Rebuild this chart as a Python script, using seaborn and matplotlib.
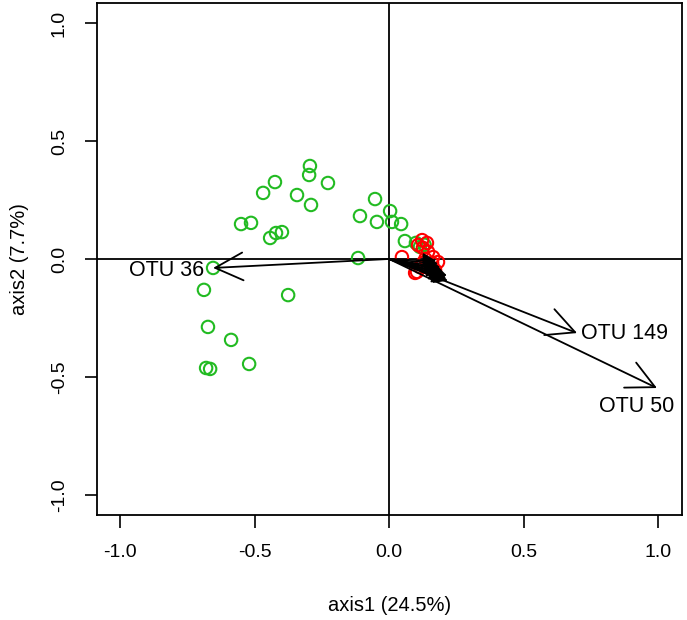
import numpy as np
import pandas as pd
import seaborn as sns
import matplotlib.pyplot as plt

# sample scores, green group
green_x = [-0.654, -0.688, -0.673, -0.587, -0.680, -0.665, -0.520, -0.550, -0.513, -0.468,
           -0.424, -0.442, -0.420, -0.398, -0.342, -0.294, -0.297, -0.290, -0.227, -0.375,
           -0.115, -0.108, -0.052, -0.045, 0.004, 0.011, 0.045, 0.059, 0.100, 0.115, 0.132]
green_y = [-0.038, -0.131, -0.288, -0.343, -0.462, -0.466, -0.445, 0.148, 0.153, 0.280,
           0.326, 0.089, 0.110, 0.114, 0.271, 0.394, 0.356, 0.229, 0.322, -0.153,
           0.004, 0.182, 0.254, 0.157, 0.203, 0.157, 0.148, 0.076, 0.068, 0.051, 0.060]

# sample scores, red group
red_x = [0.123, 0.141, 0.108, 0.126, 0.048, 0.164, 0.160, 0.126, 0.104, 0.097,
         0.115, 0.171, 0.182, 0.145, 0.150, 0.135]
red_y = [0.080, 0.068, 0.059, 0.047, 0.008, 0.008, -0.017, -0.017, -0.055, -0.059,
         -0.034, -0.047, -0.013, 0.030, -0.040, 0.000]

# OTU loadings (arrows)
otu_names = ["OTU 36", "OTU 149", "OTU 50"]
otu_x = [-0.654, 0.699, 0.996]
otu_y = [-0.038, -0.314, -0.547]
label_x = [-0.827, 0.874, 0.922]
label_y = [-0.05, -0.314, -0.627]

# unlabelled short OTU arrows forming the dark cluster
small_x = [0.175, 0.182, 0.190, 0.198, 0.205, 0.212, 0.218, 0.200, 0.192, 0.186, 0.210, 0.215]
small_y = [-0.008, -0.020, -0.035, -0.050, -0.065, -0.080, -0.092, -0.075, -0.058, -0.042, -0.090, -0.070]

df = pd.DataFrame({
    "axis1": green_x + red_x,
    "axis2": green_y + red_y,
    "group": ["g"] * len(green_x) + ["r"] * len(red_x),
})

sns.set_style("white")
plt.rcParams["font.family"] = ["Liberation Sans", "DejaVu Sans"]
plt.rcParams["text.color"] = "black"
plt.rcParams["axes.labelcolor"] = "black"

fig = plt.figure(figsize=(6.87, 6.2), dpi=100)
ax = fig.add_axes([0.1412, 0.1694, 0.8515, 0.8258])

ax.axhline(0, color="black", lw=1.3, zorder=1)
ax.axvline(0, color="black", lw=1.3, zorder=1)

sns.scatterplot(data=df, x="axis1", y="axis2", hue="group",
                palette={"g": "#22BB22", "r": "#FF0000"}, marker="o",
                s=80, linewidth=1.5, legend=False, ax=ax, zorder=3)
# seaborn fills markers; make them hollow
coll = ax.collections[-1]
coll.set_edgecolors(coll.get_facecolors())
coll.set_facecolors("none")

small_kw = dict(arrowstyle="-|>,head_length=0.8,head_width=0.45", color="black",
                lw=1.2, shrinkA=0, shrinkB=0, mutation_scale=10)
for sx, sy in zip(small_x, small_y):
    ax.annotate("", xy=(sx, sy), xytext=(0, 0), arrowprops=small_kw, zorder=4)

arrow_kw = dict(arrowstyle="->,head_length=2.0,head_width=1.0", color="black",
                lw=1.3, shrinkA=0, shrinkB=0, mutation_scale=10)
for name, x, y, lx, ly in zip(otu_names, otu_x, otu_y, label_x, label_y):
    ax.annotate("", xy=(x, y), xytext=(0, 0), arrowprops=arrow_kw, zorder=4)
    ax.text(lx, ly, name, fontsize=15.5, ha="center", va="center", color="black", zorder=5)

ax.set_xlim(-1.0855, 1.089)
ax.set_ylim(-1.085, 1.085)
ticks = [-1.0, -0.5, 0.0, 0.5, 1.0]
ax.set_xticks(ticks)
ax.set_yticks(ticks)
ax.set_xticklabels([f"{t:.1f}" for t in ticks], fontsize=14)
ax.set_yticklabels([f"{t:.1f}" for t in ticks], fontsize=14, rotation=90, va="center")
ax.tick_params(direction="out", length=9, width=1.2, pad=12, colors="black",
               bottom=True, left=True)
for sp in ax.spines.values():
    sp.set_color("black")
    sp.set_linewidth(1.3)
ax.set_xlabel("axis1 (24.5%)", fontsize=14.5, labelpad=25)
ax.set_ylabel("axis2 (7.7%)", fontsize=14.5, labelpad=16)

fig.savefig("out.png", dpi=100)
